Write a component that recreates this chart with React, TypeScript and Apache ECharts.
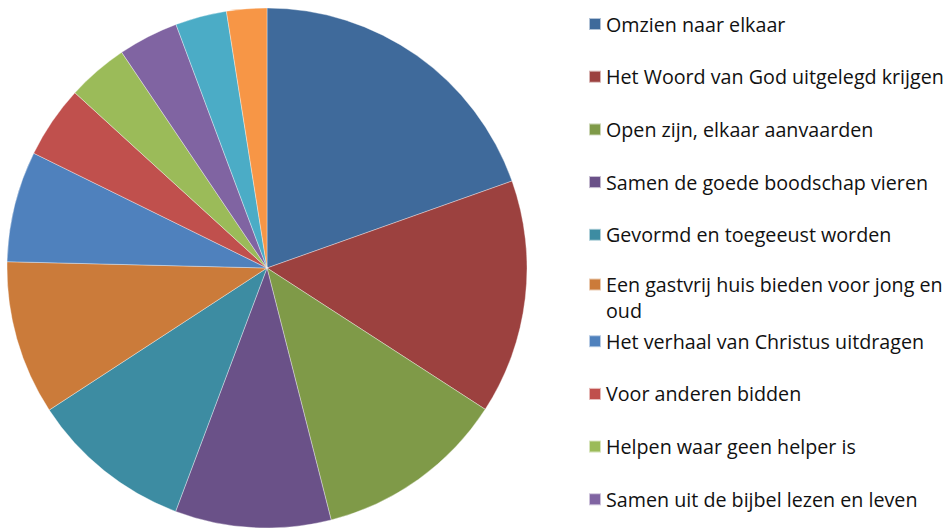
import React, { useEffect, useRef } from "react";
import * as echarts from "echarts";

const categories: string[] = [
  "Omzien naar elkaar",
  "Het Woord van God uitgelegd krijgen",
  "Open zijn, elkaar aanvaarden",
  "Samen de goede boodschap vieren",
  "Gevormd en toegeeust worden",
  "Een gastvrij huis bieden voor jong en oud",
  "Het verhaal van Christus uitdragen",
  "Voor anderen bidden",
  "Helpen waar geen helper is",
  "Samen uit de bijbel lezen en leven",
  "Overig 1",
  "Overig 2",
];

const values: number[] = [19.6, 14.6, 11.9, 9.7, 10.1, 9.6, 6.9, 4.5, 3.8, 3.75, 3.2, 2.5];

const colors: string[] = [
  "#3F6A9B",
  "#9C413F",
  "#7F9A48",
  "#6A5188",
  "#3D8CA2",
  "#CB7B3A",
  "#4F81BD",
  "#C0504D",
  "#9BBB59",
  "#8064A2",
  "#4BACC6",
  "#F79646",
];

// Legend entries visible in the picture (the last two fall below the frame)
const visibleLegendCount = 10;

const WRAP_NAME = "Een gastvrij huis bieden voor jong en oud";
const WRAP_LINES = ["Een gastvrij huis bieden voor jong en", "oud"];

export default function App() {
  const ref = useRef<HTMLDivElement>(null);

  useEffect(() => {
    if (!ref.current) return;
    const chart = echarts.init(ref.current, undefined, { renderer: "svg" });

    const LH = 26;
    const FS = 19.7;
    const FF = "Open Sans";
    const iconSize = 12;
    const shown = categories.slice(0, visibleLegendCount);
    const legendCenters = shown.map((_, i) => 24 + i * 52.7 + (i >= 6 ? 1 : 0));

    const legends = shown.map((name, i) => {
      const isWrap = name === WRAP_NAME;
      const base = {
        orient: "vertical" as const,
        left: 588,
        top: legendCenters[i] - LH / 2,
        itemWidth: iconSize,
        itemHeight: iconSize,
        icon: "rect",
        selectedMode: false,
        padding: 0,
        data: [{ name, itemStyle: { color: colors[i] } }],
      };
      if (isWrap) {
        return {
          ...base,
          formatter: () => WRAP_LINES.map((l) => `{a|${l}}`).join("\n"),
          textStyle: {
            fontFamily: FF,
            fontSize: FS,
            color: "#111",
            padding: [LH, 0, 0, 0],
            rich: {
              a: { fontFamily: FF, fontSize: FS, color: "#111", lineHeight: LH },
            },
          },
        };
      }
      return {
        ...base,
        textStyle: {
          fontFamily: FF,
          fontSize: FS,
          color: "#111",
          lineHeight: LH,
        },
      };
    });

    chart.setOption({
      animation: false,
      color: colors,
      legend: legends,
      series: [
        {
          type: "pie",
          center: [267, 268],
          radius: 260,
          startAngle: 90,
          clockwise: true,
          label: { show: false },
          labelLine: { show: false },
          emphasis: { disabled: true },
          itemStyle: {
            borderColor: "rgba(255,255,255,0.6)",
            borderWidth: 0.6,
          },
          data: categories.map((name, i) => ({ name, value: values[i] })),
        },
      ],
    });

    return () => chart.dispose();
  }, []);

  return (
    <div
      ref={ref}
      style={{ position: "fixed", left: 0, top: 0, width: 950, height: 528, background: "#fff" }}
    />
  );
}
